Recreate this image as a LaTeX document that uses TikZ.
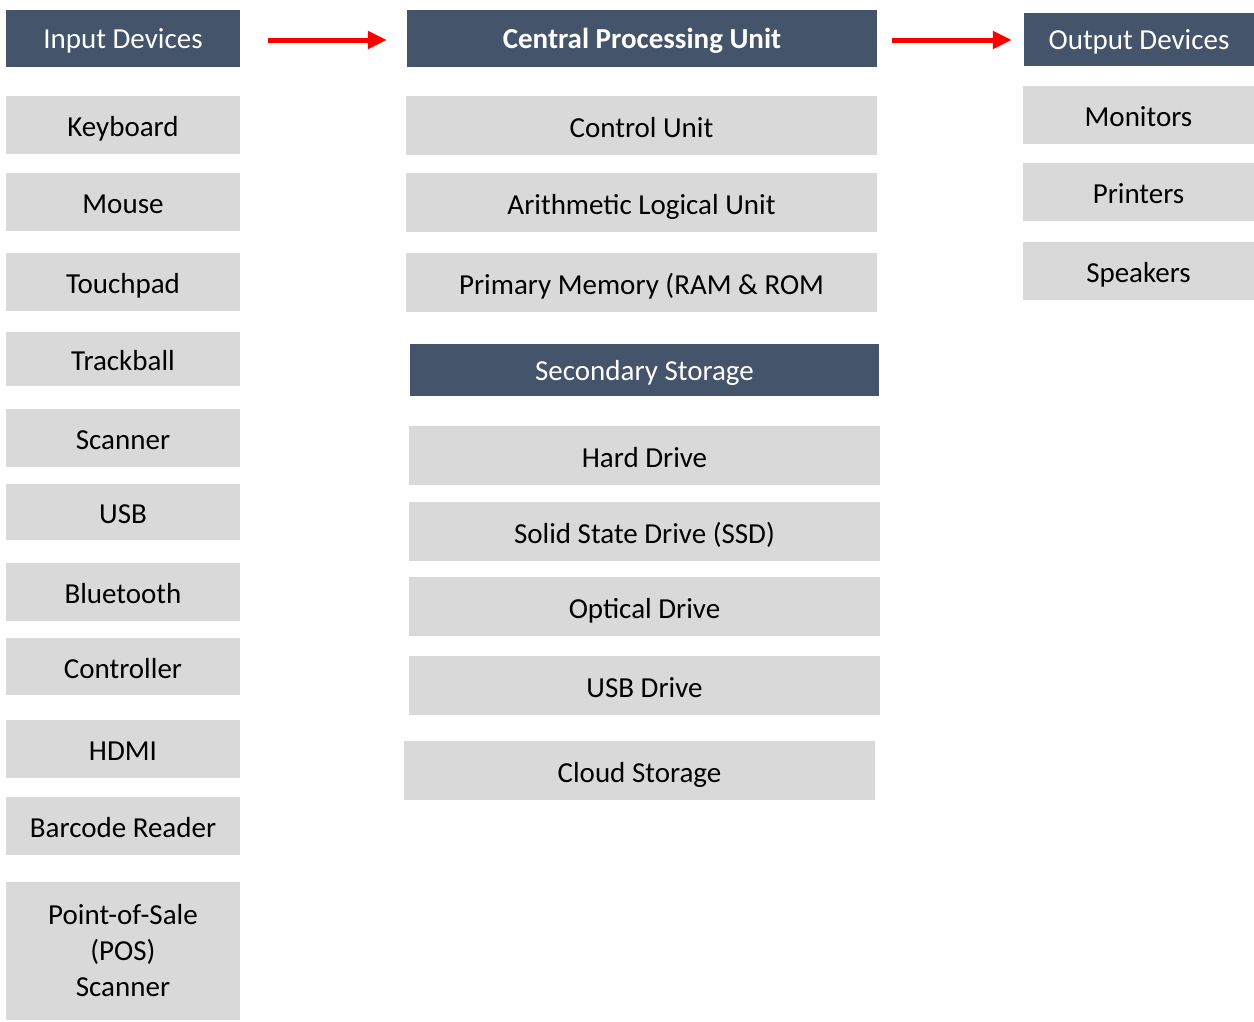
\documentclass[tikz,border=0pt]{standalone}
\usepackage{fontspec}
\setmainfont{Carlito}
\usetikzlibrary{arrows.meta}
\definecolor{hdr}{HTML}{44546A}
\definecolor{itm}{HTML}{D9D9D9}
\tikzset{
  box/.style={rectangle, inner sep=0pt, font=\fontsize{29}{36}\selectfont, align=center},
  item/.style={box, fill=itm, text=black, text height=23pt, text depth=0pt},
  multi/.style={box, fill=itm, text=black},
  head/.style={box, fill=hdr, text=white, text height=20pt, text depth=0pt},
  flow/.style={draw=red, line width=5pt, -{Triangle[length=19pt,width=17pt]}},
}
\newcommand{\bx}[7]{\node[#1, minimum width=#4pt-#3pt, minimum height=#6pt-#5pt] (#2) at ({(#3+#4)/2},{(#5+#6)/2}) {#7};}
\begin{document}
\begin{tikzpicture}[x=1pt,y=-1pt]
\useasboundingbox (0,0) rectangle (1254,1021);
% input column
\bx{head}{inh}{6}{240}{10}{67}{Input Devices}
\bx{item}{kb}{6}{240}{96}{154}{Keyboard}
\bx{item}{ms}{6}{240}{173}{231}{Mouse}
\bx{item}{tp}{6}{240}{253}{311}{Touchpad}
\bx{item}{tb}{6}{240}{332}{386}{Trackball}
\bx{item}{sc}{6}{240}{409}{467}{Scanner}
\bx{item}{usb}{6}{240}{484}{540}{USB}
\bx{item}{bt}{6}{240}{563}{621}{Bluetooth}
\bx{item}{ct}{6}{240}{638}{695}{Controller}
\bx{item}{hd}{6}{240}{720}{778}{HDMI}
\bx{item}{bc}{6}{240}{797}{855}{Barcode Reader}
\bx{multi}{pos}{6}{240}{882}{1020}{Point-of-Sale\\(POS)\\Scanner}
% cpu column
\bx{head}{cpu}{407}{877}{10}{67}{\bfseries Central Processing Unit}
\bx{item}{cu}{406}{877}{96}{155}{Control Unit}
\bx{item}{alu}{406}{877}{173}{232}{Arithmetic Logical Unit}
\bx{item}{pm}{406}{877}{253}{312}{Primary Memory (RAM \& ROM}
\bx{head}{ss}{410}{879}{344}{396}{Secondary Storage}
\bx{item}{hdd}{409}{880}{426}{485}{Hard Drive}
\bx{item}{ssd}{409}{880}{502}{561}{Solid State Drive (SSD)}
\bx{item}{od}{409}{880}{577}{636}{Optical Drive}
\bx{item}{ud}{409}{880}{656}{715}{USB Drive}
\bx{item}{cs}{404}{875}{741}{800}{Cloud Storage}
% output column
\bx{head}{outh}{1024}{1254}{13}{66}{Output Devices}
\bx{item}{mon}{1023}{1254}{86}{144}{Monitors}
\bx{item}{pr}{1023}{1254}{163}{221}{Printers}
\bx{item}{sp}{1023}{1254}{242}{300}{Speakers}
% arrows
\draw[flow, shorten <=28pt, shorten >=20pt] ([yshift=-1.5pt]inh.east) -- ([yshift=-1.5pt]inh.east -| cpu.west);
\draw[flow, shorten <=15pt, shorten >=12pt] ([yshift=-1.5pt]cpu.east) -- ([yshift=-1.5pt]cpu.east -| outh.west);
\end{tikzpicture}
\end{document}
